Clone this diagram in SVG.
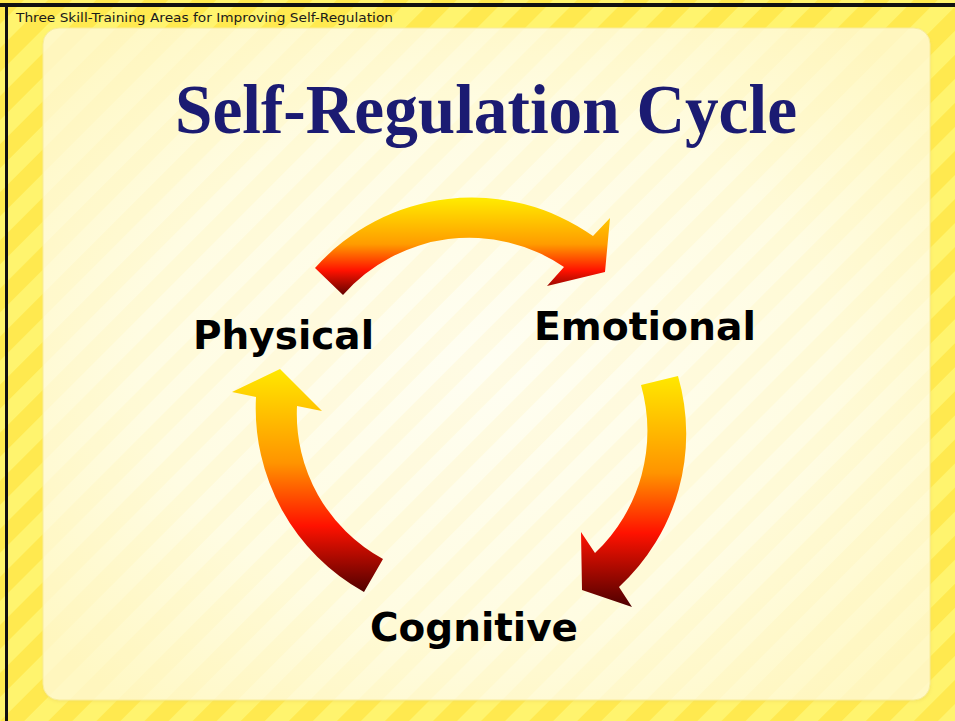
<svg xmlns="http://www.w3.org/2000/svg" width="955" height="721" viewBox="0 0 955 721">
  <defs>
    <pattern id="stripes" patternUnits="userSpaceOnUse" width="34" height="34" patternTransform="rotate(45)">
      <rect x="0" y="0" width="34" height="34" fill="#FFF46E"/>
      <rect x="0" y="0" width="17" height="34" fill="#FFE94F"/>
    </pattern>
    <pattern id="panelStripes" patternUnits="userSpaceOnUse" width="34" height="34" patternTransform="rotate(45)">
      <rect x="0" y="0" width="17" height="34" fill="#FFEFA0" opacity="0.18"/>
    </pattern>
    <radialGradient id="panelFill" cx="0.5" cy="0.5" r="0.65">
      <stop offset="0" stop-color="#FFFEF2"/>
      <stop offset="0.6" stop-color="#FFFCE2"/>
      <stop offset="1" stop-color="#FFF8C4"/>
    </radialGradient>
    <linearGradient id="gTop" gradientUnits="userSpaceOnUse" x1="0" y1="200" x2="0" y2="298">
      <stop offset="0" stop-color="#FFE800"/>
      <stop offset="0.45" stop-color="#FF9C00"/>
      <stop offset="0.72" stop-color="#FF1200"/>
      <stop offset="1" stop-color="#4E0000"/>
    </linearGradient>
    <linearGradient id="gRight" gradientUnits="userSpaceOnUse" x1="0" y1="376" x2="0" y2="607">
      <stop offset="0" stop-color="#FFE800"/>
      <stop offset="0.42" stop-color="#FF9400"/>
      <stop offset="0.68" stop-color="#FF1200"/>
      <stop offset="1" stop-color="#4E0000"/>
    </linearGradient>
    <linearGradient id="gLeft" gradientUnits="userSpaceOnUse" x1="0" y1="369" x2="0" y2="593">
      <stop offset="0" stop-color="#FFE800"/>
      <stop offset="0.42" stop-color="#FF9400"/>
      <stop offset="0.7" stop-color="#FF1200"/>
      <stop offset="1" stop-color="#4E0000"/>
    </linearGradient>
    <filter id="soft" x="-5%" y="-5%" width="110%" height="110%">
      <feGaussianBlur stdDeviation="1.5"/>
    </filter>
  </defs>
  <style>
    .label { font-family: "DejaVu Sans", Verdana, sans-serif; font-weight: bold; font-size: 39px; fill: #000000; }
    .title { font-family: "Liberation Serif", "Times New Roman", serif; font-weight: bold; font-size: 70px; fill: #1B1B72; }
    .header { font-family: "DejaVu Sans", Verdana, sans-serif; font-size: 12.5px; fill: #1a1a1a; }
  </style>

  <!-- background -->
  <rect x="0" y="0" width="955" height="721" fill="url(#stripes)"/>
  <rect x="0" y="3" width="955" height="4" fill="#111111"/>
  <rect x="5" y="3" width="3" height="718" fill="#111111"/>

  <!-- panel -->
  <rect x="43" y="30" width="888" height="672" rx="16" fill="#F0DA60" opacity="0.45" filter="url(#soft)"/>
  <rect x="43" y="28" width="887" height="672" rx="16" fill="url(#panelFill)" stroke="#F8EC9A" stroke-width="1"/>
  <rect x="43" y="28" width="887" height="672" rx="16" fill="url(#panelStripes)"/>

  <text class="header" x="16" y="22" textLength="377" lengthAdjust="spacingAndGlyphs">Three Skill-Training Areas for Improving Self-Regulation</text>

  <text class="title" x="486" y="133" text-anchor="middle" textLength="622" lengthAdjust="spacingAndGlyphs">Self-Regulation Cycle</text>

  <g id="connectors">
    <path id="arrow-physical-emotional" d="M 315 268 A 210 210 0 0 1 593 236 L 610 218 L 605 272 L 547 286 L 564 267 A 168 168 0 0 0 343 295 Z" fill="url(#gTop)"/>
    <path id="arrow-emotional-cognitive" d="M 678 376 A 208 208 0 0 1 619 587 L 632 607 L 582 590 L 581 532 L 595 553 A 168 168 0 0 0 641 385 Z" fill="url(#gRight)"/>
    <path id="arrow-cognitive-physical" d="M 364 592 A 210 210 0 0 1 256 397 L 232 392 L 280 369 L 322 411 L 297 406 A 165 165 0 0 0 383 559 Z" fill="url(#gLeft)"/>
  </g>

  <g id="node-physical">
    <text class="label" x="193" y="349" textLength="181" lengthAdjust="spacingAndGlyphs">Physical</text>
  </g>
  <g id="node-emotional">
    <text class="label" x="534" y="340" textLength="222" lengthAdjust="spacingAndGlyphs">Emotional</text>
  </g>
  <g id="node-cognitive">
    <text class="label" x="370" y="641" textLength="208" lengthAdjust="spacingAndGlyphs">Cognitive</text>
  </g>
</svg>
